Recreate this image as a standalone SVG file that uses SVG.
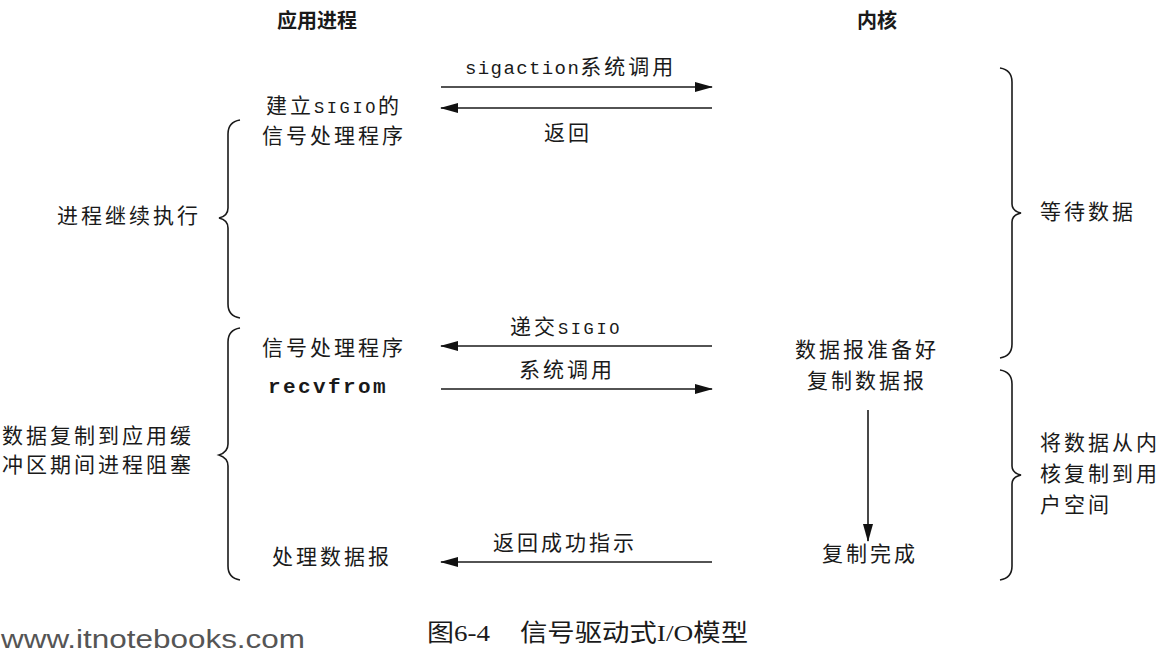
<svg xmlns="http://www.w3.org/2000/svg" width="1168" height="654" viewBox="0 0 1168 654">
<style>
.t{font-family:"Noto Sans CJK SC","Liberation Sans",sans-serif;font-size:21px;letter-spacing:3px;fill:#1a1a1a}
.h{font-family:"Noto Sans CJK SC","Liberation Sans",sans-serif;font-size:20px;font-weight:bold;fill:#1a1a1a}
.m{font-family:"Liberation Mono","Noto Sans CJK SC",monospace;font-size:19px;letter-spacing:1.4px;fill:#1a1a1a}
.s{font-family:"Liberation Mono",monospace;font-size:17px;letter-spacing:2.6px;fill:#1a1a1a}
.mb{font-family:"Liberation Mono",monospace;font-size:21px;font-weight:bold;letter-spacing:2.4px;fill:#1a1a1a}
.ln{stroke:#1a1a1a;stroke-width:1.6;fill:none}
.br{stroke:#1a1a1a;stroke-width:1.6;fill:none}
.cap{font-family:"Liberation Serif","Noto Sans CJK SC",serif;font-size:24px;fill:#1a1a1a}
.wm{font-family:"Liberation Sans",sans-serif;font-size:26px;fill:#555}
</style>
<defs>
<marker id="ah" markerWidth="18" markerHeight="10" refX="17" refY="5" orient="auto" markerUnits="userSpaceOnUse">
<path d="M0,0 L18,5 L0,10 z" fill="#111"/>
</marker>
</defs>
<rect width="1168" height="654" fill="#fff"/>
<g id="headers">
<text class="h" x="317" y="28" text-anchor="middle">应用进程</text>
<text class="h" x="877" y="28" text-anchor="middle">内核</text>
</g>
<g id="connectors">
<line class="ln" x1="441" y1="87" x2="712" y2="87" marker-end="url(#ah)"/>
<line class="ln" x1="712" y1="108" x2="441" y2="108" marker-end="url(#ah)"/>
<line class="ln" x1="712" y1="346" x2="441" y2="346" marker-end="url(#ah)"/>
<line class="ln" x1="441" y1="389" x2="712" y2="389" marker-end="url(#ah)"/>
<line class="ln" x1="712" y1="562" x2="441" y2="562" marker-end="url(#ah)"/>
<line class="ln" x1="868" y1="410" x2="868" y2="541" marker-end="url(#ah)"/>
</g>
<g id="arrow-labels">
<text x="465" y="74"><tspan class="m">sigaction</tspan><tspan class="t">系统调用</tspan></text>
<text class="t" x="544" y="140">返回</text>
<text x="510" y="334"><tspan class="t">递交</tspan><tspan class="s">SIGIO</tspan></text>
<text class="t" x="519" y="377">系统调用</text>
<text class="t" x="493" y="550">返回成功指示</text>
</g>
<g id="app-setup">
<text x="266" y="113"><tspan class="t">建立</tspan><tspan class="s">SIGIO</tspan><tspan class="t">的</tspan></text>
<text class="t" x="262" y="143">信号处理程序</text>
</g>
<g id="app-handler">
<text class="t" x="262" y="355">信号处理程序</text>
<text class="mb" x="268" y="393">recvfrom</text>
</g>
<g id="app-process">
<text class="t" x="272" y="564">处理数据报</text>
</g>
<g id="kernel-ready">
<text class="t" x="795" y="357">数据报准备好</text>
<text class="t" x="807" y="388">复制数据报</text>
</g>
<g id="kernel-done">
<text class="t" x="822" y="561">复制完成</text>
</g>
<g id="brace-continue">
<path class="br" d="M240,120 Q228,122 228,134 L228,208 Q228,216 219,218 Q228,220 228,228 L228,304 Q228,316 240,318"/>
<text class="t" x="57" y="223">进程继续执行</text>
</g>
<g id="brace-blocked">
<path class="br" d="M240,328 Q228,330 228,342 L228,444 Q228,452 219,455 Q228,458 228,466 L228,566 Q228,578 240,580"/>
<text class="t" x="2" y="443">数据复制到应用缓</text>
<text class="t" x="2" y="472">冲区期间进程阻塞</text>
</g>
<g id="brace-wait">
<path class="br" d="M1000,68 Q1012,70 1012,82 L1012,204 Q1012,211 1021,213 Q1012,215 1012,222 L1012,344 Q1012,356 1000,358"/>
<text class="t" x="1040" y="219">等待数据</text>
</g>
<g id="brace-copy">
<path class="br" d="M1000,370 Q1012,372 1012,384 L1012,466 Q1012,473 1021,475 Q1012,477 1012,484 L1012,566 Q1012,578 1000,580"/>
<text class="t" x="1040" y="450" letter-spacing="5.5">将数据从内</text>
<text class="t" x="1040" y="481" letter-spacing="5.5">核复制到用</text>
<text class="t" x="1040" y="512" letter-spacing="5.5">户空间</text>
</g>
<g id="caption">
<text class="cap" x="427" y="641" textLength="63" lengthAdjust="spacingAndGlyphs">图6-4</text>
<text class="cap" x="520" y="641" textLength="228" lengthAdjust="spacingAndGlyphs">信号驱动式I/O模型</text>
<text class="wm" x="1" y="648" textLength="304" lengthAdjust="spacingAndGlyphs">www.itnotebooks.com</text>
</g>
</svg>
